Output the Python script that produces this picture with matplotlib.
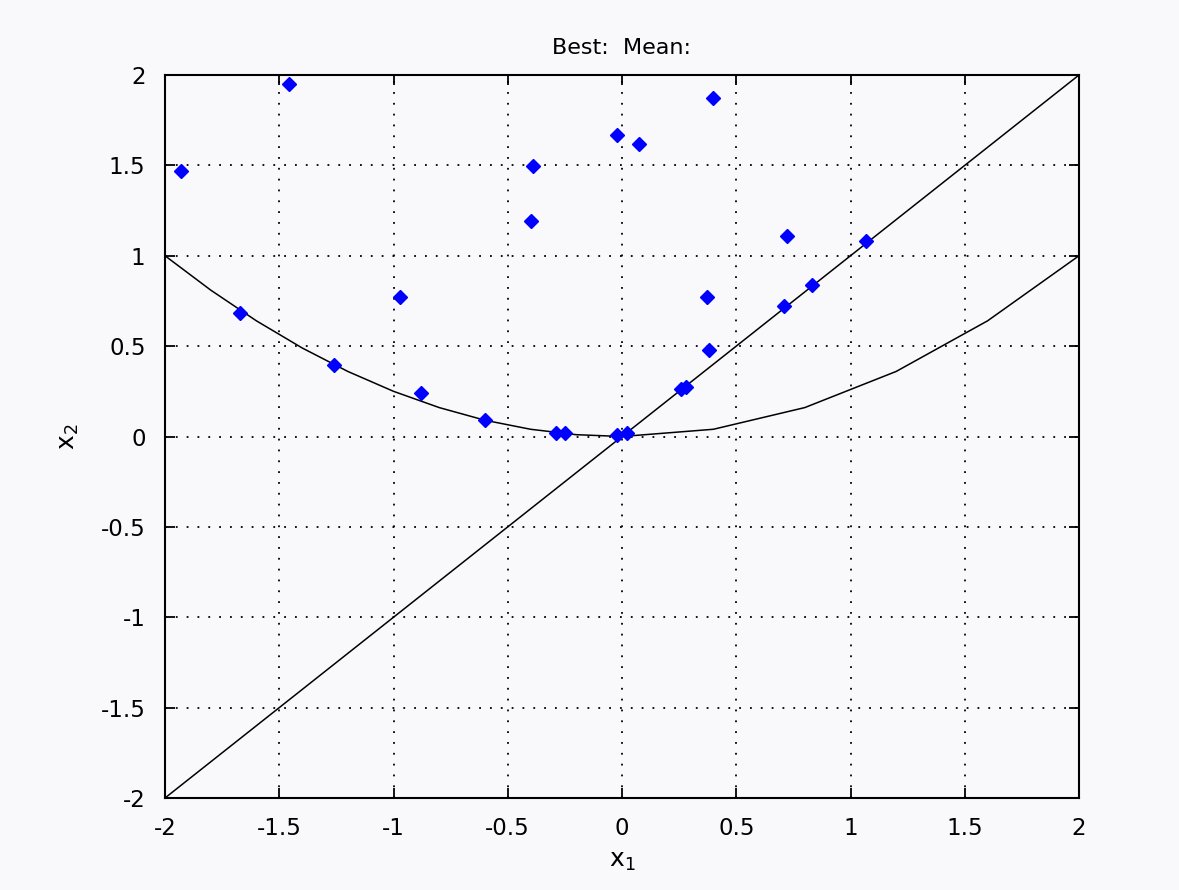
import matplotlib
matplotlib.use("Agg")
import matplotlib.pyplot as plt

# Population members (x1, x2)
pop_x1 = [-1.93, -1.457, -1.67, -1.26, -0.97, -0.88, -0.60, -0.39, -0.40,
          -0.29, -0.25, -0.02, 0.074, 0.40, 0.37, 0.38, 0.26, 0.28,
          0.72, 0.71, 0.83, 1.07, -0.02, 0.02]
pop_x2 = [1.47, 1.95, 0.685, 0.395, 0.77, 0.24, 0.09, 1.495, 1.19,
          0.02, 0.02, 1.67, 1.62, 1.87, 0.77, 0.48, 0.265, 0.275,
          1.11, 0.72, 0.84, 1.08, 0.01, 0.02]

# Constraint boundaries
line_x = [-2.0, 2.0]
line_y = [-2.0, 2.0]
curve_x = [-2.0, -1.8, -1.6, -1.4, -1.2, -1.0, -0.8, -0.6, -0.4, -0.2, 0.0,
           0.4, 0.8, 1.2, 1.6, 2.0]
curve_y = [1.0, 0.81, 0.64, 0.49, 0.36, 0.25, 0.16, 0.09, 0.04, 0.01, 0.0,
           0.04, 0.16, 0.36, 0.64, 1.0]

ticks = [-2, -1.5, -1, -0.5, 0, 0.5, 1, 1.5, 2]
tick_labels = ["-2", "-1.5", "-1", "-0.5", "0", "0.5", "1", "1.5", "2"]

bg = "#f9f9fc"
fig = plt.figure(figsize=(11.79, 8.90), dpi=100, facecolor=bg)
ax = fig.add_axes([165 / 1179, 1 - 798 / 890, 914 / 1179, 723 / 890])
ax.set_facecolor(bg)

ax.plot(line_x, line_y, color="black", lw=1.1, zorder=2)
ax.plot(curve_x, curve_y, color="black", lw=1.1, zorder=2)
ax.plot(pop_x1, pop_x2, linestyle="none", marker="D", markersize=7.5,
        color="#0000ff", markeredgecolor="#0000ff", zorder=3)

ax.set_xlim(-2, 2)
ax.set_ylim(-2, 2)
ax.set_xticks(ticks)
ax.set_xticklabels(tick_labels)
ax.set_yticks(ticks)
ax.set_yticklabels(tick_labels)

ax.grid(True, color="black", linestyle=(0, (1, 5)), linewidth=1.3)
ax.tick_params(direction="in", length=7, width=1.3, top=True, right=True,
               labelsize=16.5)
ax.tick_params(axis="x", pad=14)
ax.tick_params(axis="y", pad=14)
for sp in ax.spines.values():
    sp.set_linewidth(1.5)

ax.set_title("Best:  Mean:", fontsize=16, pad=15)
ax.set_xlabel("$\\mathregular{x_1}$", fontsize=18, labelpad=6)
ax.set_ylabel("$\\mathregular{x_2}$", fontsize=18, labelpad=14)

fig.savefig("out.png", dpi=100, facecolor=bg)
